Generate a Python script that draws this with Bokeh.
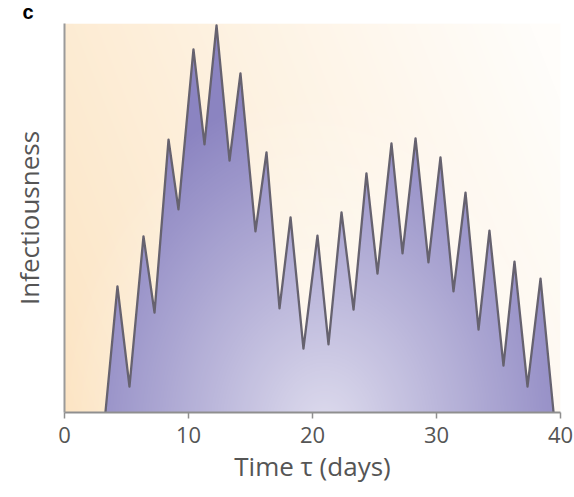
import numpy as np
from bokeh.plotting import figure
from bokeh.models import Range1d, FixedTicker
from bokeh.embed import file_html
from bokeh.resources import INLINE

# ---- data (time tau in days, relative infectiousness) ----
tau = [3.3, 4.27, 5.24, 6.37, 7.26, 8.39, 9.19, 10.40, 11.29, 12.26, 13.31, 14.19,
       15.40, 16.29, 17.34, 18.23, 19.27, 20.40, 21.29, 22.34, 23.31, 24.35, 25.24,
       26.37, 27.26, 28.31, 29.35, 30.32, 31.37, 32.34, 33.39, 34.27, 35.40, 36.29,
       37.34, 38.39, 39.44]
infectiousness = [0.0, 0.326, 0.067, 0.455, 0.258, 0.705, 0.525, 0.938, 0.693, 1.0,
                  0.651, 0.876, 0.468, 0.672, 0.269, 0.504, 0.165, 0.457, 0.176, 0.517,
                  0.266, 0.618, 0.359, 0.695, 0.411, 0.708, 0.388, 0.659, 0.313, 0.568,
                  0.214, 0.470, 0.121, 0.390, 0.067, 0.346, 0.0]
x_ticks = [0, 10, 20, 30, 40]

X_MIN, X_MAX = 0, 40
Y_MIN, Y_MAX = 0, 1.005

FONT = "Open Sans"
TEXT_COLOR = "#555555"

p = figure(width=574, height=496, output_backend="svg", toolbar_location=None,
           x_range=Range1d(X_MIN, X_MAX), y_range=Range1d(Y_MIN, Y_MAX),
           min_border_left=64, min_border_right=14, min_border_top=23,
           min_border_bottom=84, title="c")
p.outline_line_color = None
p.grid.visible = False
p.background_fill_color = "white"
p.border_fill_color = "white"

# panel letter as the title
p.title.text_font = "Liberation Sans"
p.title.text_font_size = "20px"
p.title.text_font_style = "bold"
p.title.text_color = "black"
p.title.align = "left"
p.title.vertical_align = "top"
p.title.offset = -42
p.title.standoff = -3

# ---- background gradient (styling only) ----
H, W = 389, 496
gx, gy = np.meshgrid(np.linspace(0, 1, W), np.linspace(0, 1, H))
t = np.clip(0.8 * gx + 0.25 * gy, 0, 1) ** 0.85
peach = np.array([252, 228, 194], dtype=float)
light = np.array([255, 253, 250], dtype=float)
rgb = peach[None, None, :] * (1 - t[..., None]) + light[None, None, :] * t[..., None]
bg = np.empty((H, W), dtype=np.uint32)
bv = bg.view(dtype=np.uint8).reshape((H, W, 4))
bv[..., :3] = rgb.astype(np.uint8)
bv[..., 3] = 255
p.image_rgba(image=[bg], x=X_MIN, y=Y_MIN, dw=X_MAX - X_MIN, dh=Y_MAX - Y_MIN)

# ---- filled curve ----
p.varea(x=tau, y1=0, y2=infectiousness, fill_color="#8b84c1")

# ---- soft glow on the fill (styling only) ----
dx = (gx * (X_MAX - X_MIN) - 21) / 22.0
dy = (gy * (Y_MAX - Y_MIN) + 0.05) / 0.9
r = np.sqrt(dx ** 2 + dy ** 2)
alpha = 0.72 * np.clip(1 - r, 0, 1)
glow = np.empty((H, W), dtype=np.uint32)
gv = glow.view(dtype=np.uint8).reshape((H, W, 4))
gv[..., 0] = 255
gv[..., 1] = 255
gv[..., 2] = 255
gv[..., 3] = (alpha * 255).astype(np.uint8)
p.image_rgba(image=[glow], x=X_MIN, y=Y_MIN, dw=X_MAX - X_MIN, dh=Y_MAX - Y_MIN)

# ---- outline ----
p.line(x=tau, y=infectiousness, line_color="#66626f", line_width=2.3,
       line_join="round")

# ---- axes ----
xa = p.xaxis[0]
xa.ticker = FixedTicker(ticks=x_ticks)
xa.minor_tick_line_color = None
xa.major_tick_in = 0
xa.major_tick_out = 6
xa.major_tick_line_color = "#8f8f8f"
xa.major_tick_line_width = 1.5
xa.axis_line_color = "#8f8f8f"
xa.axis_line_width = 2
xa.major_label_text_font = FONT
xa.major_label_text_font_size = "22px"
xa.major_label_text_color = TEXT_COLOR
xa.major_label_standoff = 8
xa.axis_label = "Time τ (days)"
xa.axis_label_text_font = FONT
xa.axis_label_text_font_size = "26px"
xa.axis_label_text_font_style = "normal"
xa.axis_label_text_color = TEXT_COLOR
xa.axis_label_standoff = 2

ya = p.yaxis[0]
ya.ticker = FixedTicker(ticks=[])
ya.minor_tick_line_color = None
ya.major_tick_in = 0
ya.major_tick_out = 0
ya.major_label_text_font_size = "0px"
ya.axis_line_color = "#9a9a9a"
ya.axis_line_width = 2
ya.axis_label = "Infectiousness"
ya.axis_label_text_font = FONT
ya.axis_label_text_font_size = "26px"
ya.axis_label_text_font_style = "normal"
ya.axis_label_text_color = TEXT_COLOR
ya.axis_label_standoff = 18

open("out.html", "w").write(file_html(p, INLINE))
